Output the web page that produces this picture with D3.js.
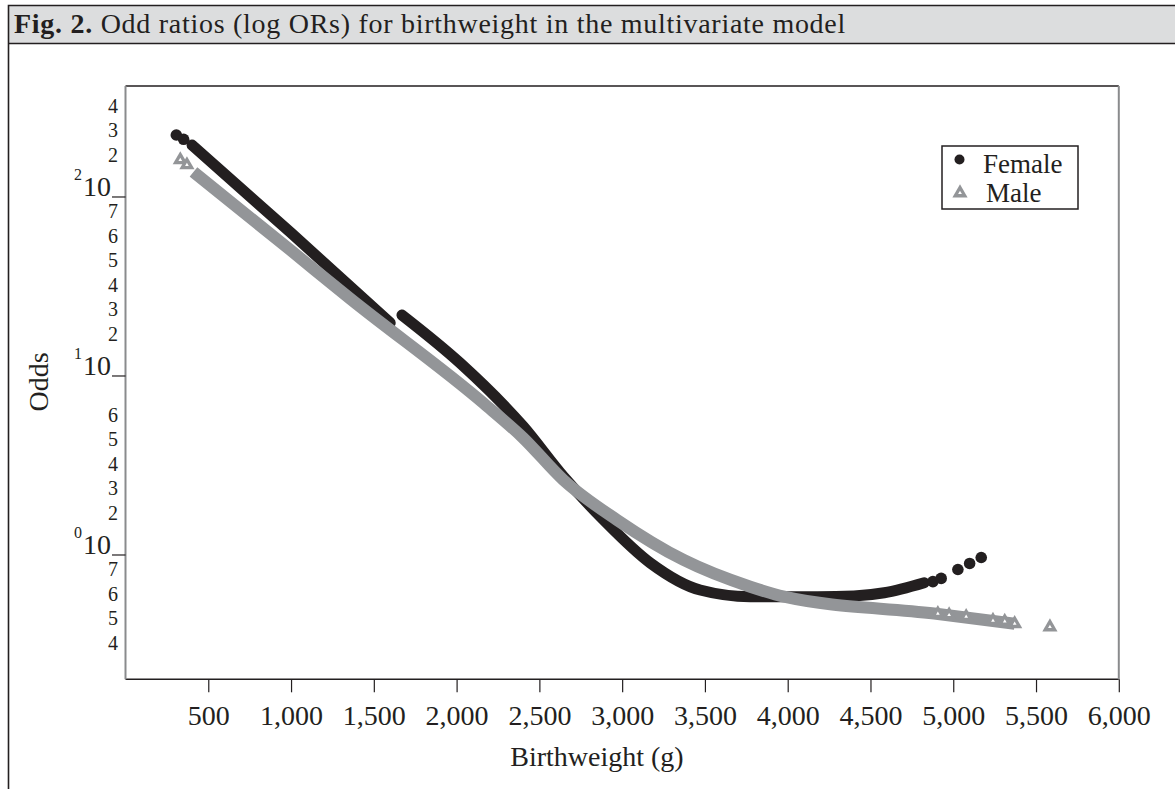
<!DOCTYPE html>
<html>
<head>
<meta charset="utf-8">
<script src="https://cdn.jsdelivr.net/npm/d3@7"></script>
<style>
  body { margin: 0; background: #fff; }
  svg { display: block; font-family: 'Liberation Serif', 'Times New Roman', serif; }
  text { fill: #231f20; }
</style>
</head>
<body>
<svg id="chart" width="1175" height="789"></svg>
<script>
// Birthweight (g) and odds
var femaleLowWeight = [402, 1000, 1599],
    femaleLowOdds = [195, 63, 19.8],
    femaleHighWeight = [1670, 2022, 2404, 2646, 2888, 3170, 3471, 3773, 4180, 4400, 4583, 4825],
    femaleHighOdds = [21.9, 11.8, 5.21, 2.74, 1.57, 0.902, 0.637, 0.585, 0.585, 0.59, 0.615, 0.70],
    femaleDotWeight = [307, 351, 4877, 4927, 5028, 5099, 5169],
    femaleDotOdds = [222, 210, 0.71, 0.74, 0.83, 0.897, 0.968];

var maleWeight = [411, 995, 1358, 2163, 2400, 2646, 2969, 3371, 3774, 3978, 4885, 5371],
    maleOdds = [138, 50.6, 27.0, 7.04, 4.53, 2.62, 1.57, 0.938, 0.665, 0.585, 0.471, 0.413],
    maleMarkWeight = [331, 371, 4907, 4975, 5078, 5240, 5311, 5371, 5584],
    maleMarkOdds = [161, 151, 0.470, 0.462, 0.452, 0.430, 0.425, 0.413, 0.396];

var xTicks = [500, 1000, 1500, 2000, 2500, 3000, 3500, 4000, 4500, 5000, 5500, 6000],
    decadeTicks = [1, 10, 100],
    minorTicks = [400, 300, 200, 70, 60, 50, 40, 30, 20, 6, 5, 4, 3, 2, 0.7, 0.6, 0.5, 0.4];

var seriesNames = ['Female', 'Male'];

var INK = '#231f20', GREY = '#939598';

var svg = d3.select('#chart');

var x = d3.scaleLinear().domain([0, 6000]).range([125.5, 1118.8]),
    y = d3.scaleLog().domain([0.2021, 416.9]).range([679.3, 86]);

// frame + title bar
svg.append('rect')
    .attr('x', 8.5).attr('y', 5.5).attr('width', 1180).attr('height', 38)
    .attr('fill', '#dcddde');
svg.append('path')
    .attr('d', 'M8.5,789V5.5H1175M8.5,43.5H1175')
    .attr('fill', 'none').attr('stroke', INK).attr('stroke-width', 1.6);

var title = svg.append('text')
    .attr('x', 14).attr('y', 33)
    .style('font-size', '28px');
title.append('tspan').style('font-weight', 'bold').text('Fig. 2.');
title.append('tspan').text(' Odd ratios (log ORs) for birthweight in the multivariate model');
// the printed face runs wider than Times; spread the letters to the same length
var tw = title.node().getComputedTextLength(),
    tn = title.text().length;
title.style('letter-spacing', Math.max(0, (832 - tw) / tn) + 'px');

// plot box
svg.append('path')
    .attr('d', 'M' + x.range()[0] + ',86H' + x.range()[1] + 'M' + x.range()[0] + ',' + y.range()[0] + 'H' + x.range()[1])
    .attr('stroke', INK).attr('stroke-width', 1.5);
svg.append('path')
    .attr('d', 'M' + x.range()[0] + ',86V' + y.range()[0] + 'M' + x.range()[1] + ',86V' + y.range()[0])
    .attr('stroke', '#8a8b8d').attr('stroke-width', 2);

// x axis
var xAxis = svg.append('g')
    .attr('transform', 'translate(0,' + y.range()[0] + ')')
    .call(d3.axisBottom(x).tickValues(xTicks).tickSize(13).tickFormat(d3.format(',')));
xAxis.select('.domain').remove();
xAxis.selectAll('.tick line').attr('stroke', INK).attr('stroke-width', 1.2);
xAxis.selectAll('.tick text')
    .attr('y', 46).attr('dy', 0)
    .style('font-size', '28px').style('font-family', 'Liberation Serif, serif')
    .attr('fill', INK);

svg.append('text')
    .attr('x', 597).attr('y', 766)
    .attr('text-anchor', 'middle')
    .style('font-size', '28px')
    .text('Birthweight (g)');

// y axis: decades with underscore ticks, minor digits stacked beneath each decade
var decade = svg.append('g').selectAll('g')
    .data(decadeTicks)
    .join('g')
    .attr('transform', function(d) { return 'translate(0,' + y(d) + ')'; });
decade.append('line')
    .attr('x1', 112).attr('x2', x.range()[0])
    .attr('stroke', INK).attr('stroke-width', 1.2);
decade.append('text')
    .attr('x', 111).attr('y', -1)
    .attr('text-anchor', 'end')
    .style('font-size', '28px')
    .text('10');
decade.append('text')
    .attr('x', 82).attr('y', -17)
    .attr('text-anchor', 'end')
    .style('font-size', '16px')
    .text(function(d) { return Math.round(Math.log10(d)); });

function minorY(v) {
    var d = Math.pow(10, Math.floor(Math.log10(v) + 1e-9)),
        k = Math.round(v / d);
    return y(d * 10) + 14.5 + (7 - k) * 24.5;
}

svg.append('g').selectAll('text')
    .data(minorTicks)
    .join('text')
    .attr('x', 118)
    .attr('y', function(d) { return minorY(d) + 6.8; })
    .attr('text-anchor', 'end')
    .style('font-size', '20px')
    .text(function(d) {
        var p = Math.pow(10, Math.floor(Math.log10(d) + 1e-9));
        return Math.round(d / p);
    });

svg.append('text')
    .attr('transform', 'translate(48,382) rotate(-90)')
    .attr('text-anchor', 'middle')
    .style('font-size', '28px')
    .text('Odds');

// series
function pts(ws, vs) {
    return ws.map(function(w, i) { return [w, vs[i]]; });
}

var line = d3.line()
    .x(function(d) { return x(d[0]); })
    .y(function(d) { return y(d[1]); })
    .curve(d3.curveMonotoneX);

var plot = svg.append('g');

[pts(femaleLowWeight, femaleLowOdds), pts(femaleHighWeight, femaleHighOdds)].forEach(function(seg) {
    plot.append('path')
        .attr('d', line(seg))
        .attr('fill', 'none').attr('stroke', INK)
        .attr('stroke-width', 11).attr('stroke-linecap', 'round').attr('stroke-linejoin', 'round');
});
plot.selectAll('circle.fem')
    .data(pts(femaleDotWeight, femaleDotOdds))
    .join('circle')
    .attr('class', 'fem')
    .attr('cx', function(d) { return x(d[0]); })
    .attr('cy', function(d) { return y(d[1]); })
    .attr('r', 5.8)
    .attr('fill', INK);

plot.append('path')
    .attr('d', line(pts(maleWeight, maleOdds)))
    .attr('fill', 'none').attr('stroke', GREY)
    .attr('stroke-width', 12).attr('stroke-linejoin', 'round');

var tri = d3.symbol().type(d3.symbolTriangle).size(100),
    triHole = d3.symbol().type(d3.symbolTriangle).size(6);

var marks = plot.selectAll('g.male')
    .data(pts(maleMarkWeight, maleMarkOdds))
    .join('g')
    .attr('class', 'male')
    .attr('transform', function(d) { return 'translate(' + x(d[0]) + ',' + y(d[1]) + ')'; });
marks.append('path').attr('d', tri).attr('fill', GREY);
marks.append('path').attr('d', triHole).attr('fill', '#fff');

// legend
var legend = svg.append('g').attr('transform', 'translate(942,146)');
legend.append('rect')
    .attr('width', 136).attr('height', 63)
    .attr('fill', '#fff').attr('stroke', INK).attr('stroke-width', 1.5);
legend.append('circle')
    .attr('cx', 17.5).attr('cy', 13.5).attr('r', 5)
    .attr('fill', INK);
var lt = legend.append('g').attr('transform', 'translate(18,47)');
lt.append('path').attr('d', tri).attr('fill', GREY);
lt.append('path').attr('d', triHole).attr('fill', '#fff');
legend.selectAll('text.lab')
    .data(seriesNames)
    .join('text')
    .attr('class', 'lab')
    .attr('x', function(d, i) { return i ? 44 : 41; })
    .attr('y', function(d, i) { return 27 + i * 28.5; })
    .style('font-size', '27px')
    .text(function(d) { return d; });
</script>
</body>
</html>
